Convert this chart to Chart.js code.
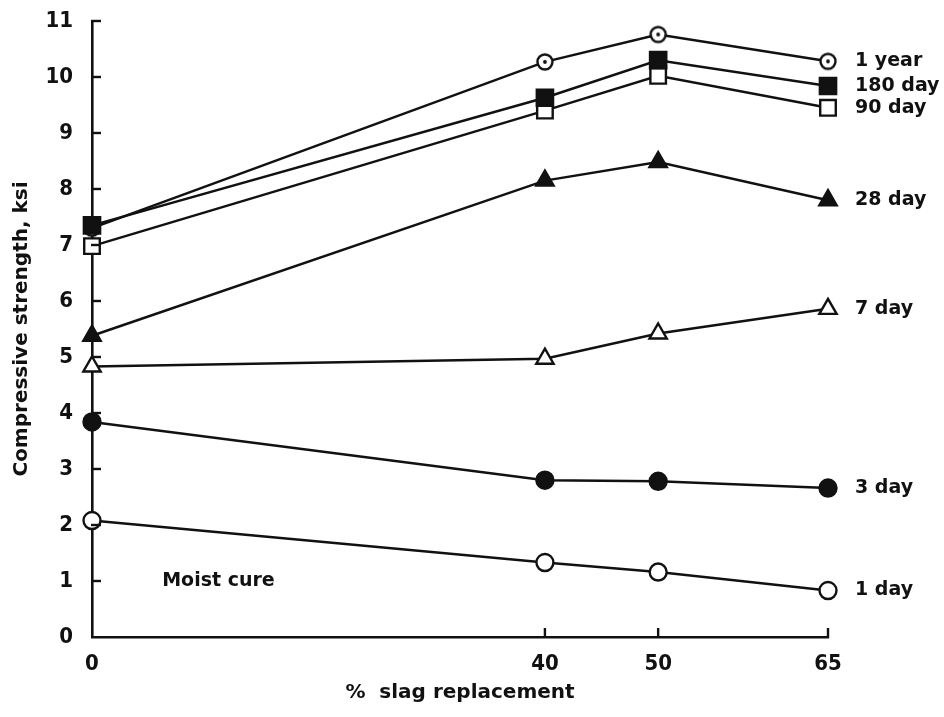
<!DOCTYPE html>
<html><head><meta charset="utf-8">
<script src="https://cdn.jsdelivr.net/npm/chart.js@4/dist/chart.umd.min.js"></script>
<style>html,body{margin:0;padding:0;background:#fff}</style>
</head><body>
<canvas id="c" width="944" height="717"></canvas>
<script>
// ---- data ----
const slagPct = [0, 40, 50, 65];
const xTickValues = [0, 40, 50, 65];
const yTickValues = [0, 1, 2, 3, 4, 5, 6, 7, 8, 9, 10, 11];
const seriesNames = ['1 year', '180 day', '90 day', '28 day', '7 day', '3 day', '1 day'];
const oneYear = [7.30, 10.27, 10.76, 10.28];
const day180  = [7.35, 9.63, 10.30, 9.84];
const day90   = [6.98, 9.40, 10.02, 9.45];
const day28   = [5.38, 8.15, 8.48, 7.80];
const day7    = [4.83, 4.97, 5.42, 5.86];
const day3    = [3.84, 2.80, 2.78, 2.66];
const day1    = [2.08, 1.33, 1.16, 0.83];
const seriesValues = [oneYear, day180, day90, day28, day7, day3, day1];
const xTitle = '%  slag replacement';
const yTitle = 'Compressive strength, ksi';
const noteText = 'Moist cure';
const notePos = { x: 6.2, y: 1.0 };

// ---- styles ----
const FONT = "'DejaVu Sans', sans-serif";
const TICKFONT = "'DejaVu Sans Condensed', 'DejaVu Sans', sans-serif";
const INK = '#111';

function dotCircle() {
  const s = 24, cv = document.createElement('canvas');
  cv.width = s; cv.height = s;
  const g = cv.getContext('2d');
  g.beginPath(); g.arc(s/2, s/2, 7.5, 0, Math.PI*2);
  g.fillStyle = '#fff'; g.fill();
  g.lineWidth = 2.4; g.strokeStyle = INK; g.stroke();
  g.beginPath(); g.arc(s/2, s/2, 1.9, 0, Math.PI*2);
  g.fillStyle = INK; g.fill();
  return cv;
}

const markerStyles = [
  { pointStyle: dotCircle(), radius: 8, fill: '#fff', order: 1 },
  { pointStyle: 'rect', radius: 11.5, fill: INK, order: 0 },
  { pointStyle: 'rect', radius: 11, fill: '#fff', order: 0 },
  { pointStyle: 'triangle', radius: 10, fill: INK, order: 0 },
  { pointStyle: 'triangle', radius: 10, fill: '#fff', order: 0 },
  { pointStyle: 'circle', radius: 8.5, fill: INK, order: 0 },
  { pointStyle: 'circle', radius: 8.5, fill: '#fff', order: 0 }
];

const datasets = seriesNames.map((name, i) => ({
  label: name,
  data: slagPct.map((x, j) => ({ x: x, y: seriesValues[i][j] })),
  borderColor: INK,
  borderWidth: 2.5,
  pointStyle: markerStyles[i].pointStyle,
  pointRadius: markerStyles[i].radius,
  pointBackgroundColor: markerStyles[i].fill,
  pointBorderColor: INK,
  pointBorderWidth: 2.4,
  order: markerStyles[i].order,
  tension: 0,
  clip: false
}));

const inwardTicks = {
  id: 'inwardTicks',
  afterDraw(chart) {
    const ctx = chart.ctx, xs = chart.scales.x, ys = chart.scales.y;
    const L = 9;
    ctx.save();
    ctx.strokeStyle = INK; ctx.lineWidth = 2.4; ctx.lineCap = 'butt';
    xTickValues.forEach(v => {
      if (v === xs.min) return;
      const px = xs.getPixelForValue(v);
      ctx.beginPath(); ctx.moveTo(px, ys.bottom + 1); ctx.lineTo(px, ys.bottom - L); ctx.stroke();
    });
    yTickValues.forEach(v => {
      if (v === ys.min) return;
      const py = ys.getPixelForValue(v);
      ctx.beginPath(); ctx.moveTo(xs.left - 1, py); ctx.lineTo(xs.left + L, py); ctx.stroke();
    });
    ctx.restore();
  }
};

const seriesLabels = {
  id: 'seriesLabels',
  afterDatasetsDraw(chart) {
    const ctx = chart.ctx;
    ctx.save();
    ctx.fillStyle = INK;
    ctx.font = "bold 19px " + FONT;
    ctx.textAlign = 'left'; ctx.textBaseline = 'middle';
    chart.data.datasets.forEach((ds, i) => {
      const meta = chart.getDatasetMeta(i);
      const pt = meta.data[meta.data.length - 1];
      ctx.fillText(ds.label, pt.x + 27, pt.y);
    });
    const xs = chart.scales.x, ys = chart.scales.y;
    ctx.fillText(noteText, xs.getPixelForValue(notePos.x), ys.getPixelForValue(notePos.y));
    ctx.restore();
  }
};

new Chart(document.getElementById('c'), {
  type: 'line',
  data: { datasets: datasets },
  options: {
    responsive: false,
    devicePixelRatio: 1,
    animation: false,
    layout: { padding: { left: 0, top: 21, right: 116, bottom: 0 } },
    plugins: { legend: { display: false }, tooltip: { enabled: false } },
    scales: {
      x: {
        type: 'linear', min: 0, max: 65,
        afterBuildTicks: s => { s.ticks = xTickValues.map(v => ({ value: v })); },
        afterFit: s => { s.height = 80; s.paddingLeft = 0; s.paddingRight = 0; },
        grid: { display: true, drawOnChartArea: false, drawTicks: false },
        border: { display: true, color: INK, width: 2.6 },
        ticks: { color: INK, padding: 14, font: { family: TICKFONT, size: 22, weight: 'bold' } },
        title: { display: true, text: xTitle, color: INK, font: { family: FONT, size: 20, weight: 'bold' }, padding: { top: 0, bottom: 12 } }
      },
      y: {
        type: 'linear', min: 0, max: 11,
        afterBuildTicks: s => { s.ticks = yTickValues.map(v => ({ value: v })); },
        afterFit: s => { s.width = 92; s.paddingTop = 0; s.paddingBottom = 0; },
        grid: { display: true, drawOnChartArea: false, drawTicks: false },
        border: { display: true, color: INK, width: 2.6 },
        ticks: { color: INK, padding: 19, font: { family: TICKFONT, size: 22, weight: 'bold' } },
        title: { display: true, text: yTitle, color: INK, font: { family: FONT, size: 20, weight: 'bold' }, padding: { top: 10, bottom: 0 } }
      }
    }
  },
  plugins: [inwardTicks, seriesLabels]
});
</script>
</body></html>
